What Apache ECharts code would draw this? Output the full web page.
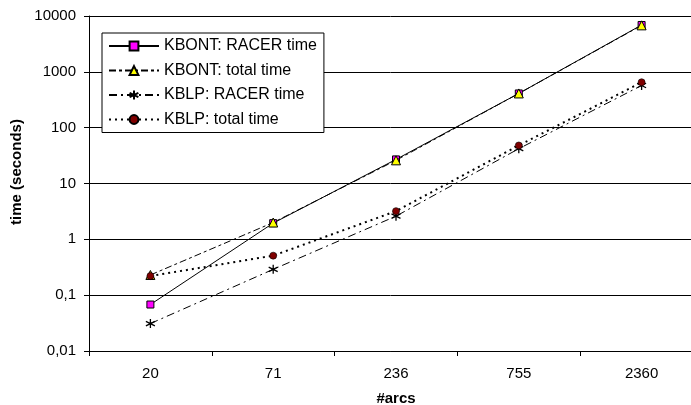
<!DOCTYPE html>
<html>
<head>
<meta charset="utf-8">
<script src="https://cdn.jsdelivr.net/npm/echarts@6/dist/echarts.min.js"></script>
<style>html,body{margin:0;padding:0;background:#fff;}#c{width:691px;height:405px;}</style>
</head>
<body>
<div id="c"></div>
<script>
var categories = ['20', '71', '236', '755', '2360'];
var kbontRacer = [0.068, 1.95, 27, 410, 6900];
var kbontTotal = [0.23, 2.0, 26, 410, 6800];
var kblpRacer = [0.031, 0.29, 2.6, 42, 570];
var kblpTotal = [0.22, 0.51, 3.2, 48, 650];
var yTickLabels = ['0,01', '0,1', '1', '10', '100', '1000', '10000'];

var FONT = 'Arial, "Liberation Sans", Helvetica, sans-serif';
var starPath = 'path://M5,0L5,10M0.7,2.5L9.3,7.5M9.3,2.5L0.7,7.5';

var chart = echarts.init(document.getElementById('c'), null, {renderer: 'canvas'});
chart.setOption({
  animation: false,
  backgroundColor: '#fff',
  grid: {left: 89, top: 16, bottom: 54, width: 614, containLabel: false, outerBoundsMode: 'none'},
  graphic: [{
    type: 'text',
    x: 17, y: 172,
    rotation: Math.PI / 2,
    style: {
      text: 'time (seconds)',
      font: 'bold 15px ' + FONT,
      fill: '#000',
      align: 'center',
      verticalAlign: 'middle'
    }
  }],
  legend: {
    orient: 'vertical',
    left: 102, top: 33,
    padding: [5, 7, 5, 6],
    itemGap: 8.5,
    itemWidth: 50, itemHeight: 11,
    borderColor: '#000', borderWidth: 1,
    backgroundColor: '#fff',
    borderRadius: 0,
    textStyle: {fontFamily: FONT, fontSize: 16, color: '#000', lineHeight: 16},
    data: ['KBONT: RACER time', 'KBONT: total time', 'KBLP: RACER time', 'KBLP: total time']
  },
  xAxis: {
    type: 'category',
    data: categories,
    boundaryGap: true,
    name: '#arcs',
    nameLocation: 'middle',
    nameGap: 40,
    nameTextStyle: {fontFamily: FONT, fontSize: 15, fontWeight: 'bold', color: '#000'},
    axisLine: {lineStyle: {color: '#000', width: 1}},
    axisTick: {show: true, inside: false, length: 5, alignWithLabel: false, lineStyle: {color: '#000'}},
    axisLabel: {fontFamily: FONT, fontSize: 15, color: '#000', margin: 15},
    splitLine: {show: false}
  },
  yAxis: {
    type: 'log',
    logBase: 10,
    min: 0.01,
    max: 10000,
    axisLine: {show: true, lineStyle: {color: '#000', width: 1}},
    axisTick: {show: true, inside: false, length: 5, lineStyle: {color: '#000'}},
    axisLabel: {
      fontFamily: FONT, fontSize: 15, color: '#000', margin: 13,
      formatter: function (v) {
        var i = Math.round(Math.log(v) / Math.LN10) + 2;
        return yTickLabels[i] !== undefined ? yTickLabels[i] : '';
      }
    },
    splitLine: {show: true, lineStyle: {color: '#000', width: 1}},
    minorTick: {show: false}
  },
  series: [
    {
      name: 'KBONT: RACER time', type: 'line', data: kbontRacer,
      symbol: 'rect', symbolSize: 7,
      lineStyle: {color: '#000', width: 1, type: 'solid'},
      itemStyle: {color: '#ff00ff', borderColor: '#000', borderWidth: 1},
      z: 2
    },
    {
      name: 'KBONT: total time', type: 'line', data: kbontTotal,
      symbol: 'triangle', symbolSize: 9,
      lineStyle: {color: '#000', width: 1, type: [7, 3, 3, 3]},
      itemStyle: {color: '#ffff00', borderColor: '#000', borderWidth: 1},
      z: 3
    },
    {
      name: 'KBLP: RACER time', type: 'line', data: kblpRacer,
      symbol: starPath, symbolSize: 9,
      lineStyle: {color: '#000', width: 1, type: [8, 4, 2, 4]},
      itemStyle: {color: 'none', borderColor: '#000', borderWidth: 1.3},
      z: 4
    },
    {
      name: 'KBLP: total time', type: 'line', data: kblpTotal,
      symbol: 'circle', symbolSize: 7,
      lineStyle: {color: '#000', width: 2, type: [2, 4]},
      itemStyle: {color: '#800000', borderColor: '#000', borderWidth: 0.6},
      z: 5
    }
  ]
});
</script>
</body>
</html>
